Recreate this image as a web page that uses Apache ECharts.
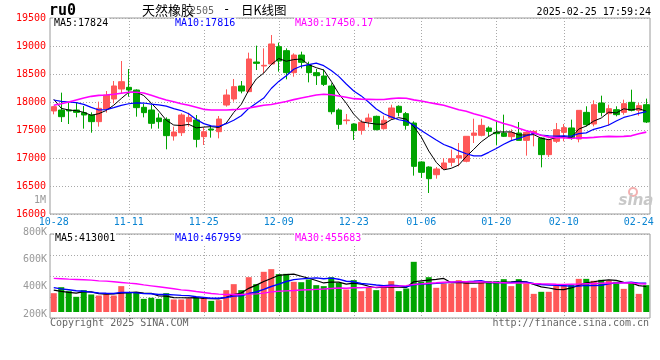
<!DOCTYPE html>
<html><head><meta charset="utf-8">
<script src="https://cdn.jsdelivr.net/npm/echarts@6/dist/echarts.min.js"></script>
<style>html,body{margin:0;padding:0;background:#fff}#c{width:660px;height:360px}</style>
</head><body><div id="c"></div>
<script>
// ---- data ----
const dates = ['10-28','10-29','10-30','10-31','11-01','11-04','11-05','11-06','11-07','11-08',
'11-11','11-12','11-13','11-14','11-15','11-18','11-19','11-20','11-21','11-22',
'11-25','11-26','11-27','11-28','11-29','12-02','12-03','12-04','12-05','12-06',
'12-09','12-10','12-11','12-12','12-13','12-16','12-17','12-18','12-19','12-20',
'12-23','12-24','12-25','12-26','12-27','12-30','12-31','01-02','01-03','01-06',
'01-07','01-08','01-09','01-10','01-13','01-14','01-15','01-16','01-17','01-20',
'01-21','01-22','01-23','01-24','01-27','02-05','02-06','02-07','02-10','02-11',
'02-12','02-13','02-14','02-17','02-18','02-19','02-20','02-21','02-24','02-25'];
const opens = [17840,17857,17857,17857,17810,17768,17649,17875,18054,18232,
18262,18214,17905,17857,17714,17690,17393,17452,17649,17679,
17381,17518,17470,17946,18054,18286,18185,18714,18643,18679,
18988,18917,18524,18839,18661,18524,18464,18286,17857,17667,
17607,17494,17649,17744,17524,17714,17923,17792,17625,16929,
16839,16702,16810,16923,17000,16941,17405,17405,17536,17458,
17446,17381,17446,17315,17434,17357,17060,17298,17458,17536,
17339,17815,17607,17982,17792,17863,17815,17994,17851,17952];
const closes = [17917,17738,17840,17815,17768,17649,17887,18125,18286,18363,
18214,17899,17810,17619,17649,17399,17464,17768,17726,17333,
17470,17500,17696,18125,18274,18196,18768,18690,18655,19036,
18732,18524,18839,18708,18524,18470,18315,17827,17601,17679,
17488,17637,17714,17506,17673,17893,17815,17583,16851,16744,
16631,16804,16911,16988,17042,17387,17446,17583,17476,17434,
17387,17452,17315,17458,17476,17060,17327,17506,17542,17357,
17851,17595,17952,17815,17881,17774,17970,17851,17935,17643];
const lows = [17780,17643,17607,17726,17524,17452,17560,17810,17976,18155,
18095,17738,17726,17524,17524,17155,17310,17393,17560,17190,
17232,17363,17351,17917,18006,18155,18173,18571,18512,18661,
18542,18405,18452,18601,18351,18304,18286,17780,17512,17601,
17321,17417,17548,17494,17506,17685,17744,17506,16685,16643,
16375,16631,16792,16851,16851,16923,17268,17387,17387,17226,
17375,17321,17315,17042,17208,16833,17018,17268,17298,17327,
17280,17565,17565,17744,17577,17744,17774,17833,17756,17625];
const highs = [17930,18167,17988,17988,17929,17815,18006,18196,18375,18732,
18589,18226,17964,17946,17798,17726,17560,17798,17810,17768,
17548,17577,17750,18226,18411,18375,18881,19006,18958,19196,
19060,18958,18869,18899,18720,18589,18583,18333,17887,17786,
17619,17685,17792,17756,17756,17952,17940,17821,17655,16941,
16851,16839,17000,17149,17268,17387,17702,17702,17565,17667,
17774,17512,17643,17476,17494,17369,17345,17625,17607,17685,
17851,17923,18030,18113,17952,17923,18042,18220,17982,18060];
// volume in thousands of lots
const volumesK = [305,402,338,246,354,284,267,289,267,419,
321,321,213,230,213,305,203,203,219,235,
235,181,192,354,451,354,564,451,651,694,
613,618,489,483,527,435,419,564,473,365,
516,338,392,354,419,500,338,381,813,489,
564,392,462,462,516,500,392,489,500,500,
532,419,532,462,294,327,327,424,435,435,
537,537,505,521,505,489,375,473,294,435];
const ma5Lead = [18048,17887,17857,17845];
const ma10Lead = [18036,18012,18000,17988,17958,17905,17857,17863,17899];
const ma30Lead = [17941,17970,18000,18036,18071,18101,18119,18125,18137,18155,
18173,18173,18161,18119,18077,18036,18006,17970,17941,17905,
17869,17857,17857,17857,17863,17875,17893,17917,17941];
const volMa5LeadK = [355,335,318,306];
const volMa10LeadK = [395,375,360,345,335,322,308,303,300];
const volMa30LeadK = [544,538,532,527,522,516,505,500,489,478,
467,457,440,424,408,392,376,359,349,332,
316,300,289,284,284,284,289,294,305];
const labelDates = ['10-28','11-11','11-25','12-09','12-23','01-06','01-20','02-10','02-24'];
const gridDates = ['11-11','11-25','12-09','12-23','01-06','01-20','02-10'];
const priceMin = 16000, priceMax = 19500, priceStep = 500;
const volLabelValues = [200000,400000,600000,800000];
const headerMain = ['MA5:17824','MA10:17816','MA30:17450.17'];
const headerVol = ['MA5:413001','MA10:467959','MA30:455683'];

// ---- derived ----
function ma(src, n, lead){
  return src.map((v,i)=>{
    if(i < n-1) return lead[i];
    let s=0; for(let k=i-n+1;k<=i;k++) s+=src[k];
    return +(s/n).toFixed(2);
  });
}
const volumes = volumesK.map(v=>v*1000);
const kData = opens.map((o,i)=>[o, closes[i], lows[i], highs[i]]);
const UP='#ff5858', DOWN='#00a400';
const volData = volumes.map((v,i)=>({value:v, itemStyle:{color: closes[i]>=opens[i]?UP:DOWN}}));
const mono = '"DejaVu Sans Mono", monospace';
const dotted = {color:'#a8a8a8', width:1, type:[1,2]};
const labelIdx = (i,v)=>labelDates.indexOf(v)>=0;
const gridIdx = (i,v)=>gridDates.indexOf(v)>=0;

const chart = echarts.init(document.getElementById('c'), null, {renderer:'canvas'});
const gridBase = {left:50, width:600, outerBoundsMode:'none'};
function hdr(txt, x, y, color){
  return {type:'text', x:x, y:y, z:100, style:{text:txt, font:'10px '+mono, fill:color, align:'left', verticalAlign:'middle', backgroundColor:'#fff', padding:[1,1,1,1]}};
}
const option = {
  animation:false,
  backgroundColor:'#fff',
  grid:[
    Object.assign({top:18, height:196, show:true, borderColor:'#9a9a9a', borderWidth:1}, gridBase),
    Object.assign({top:234, height:78, show:false}, gridBase),
    Object.assign({top:234, height:84, show:true, borderColor:'#9a9a9a', borderWidth:1}, gridBase),
    Object.assign({top:218.65, height:109.2, show:false}, gridBase)
  ],
  xAxis:[
    {type:'category', gridIndex:0, data:dates, boundaryGap:true,
     axisLine:{show:false}, axisTick:{show:false},
     axisLabel:{interval:labelIdx, color:'#0a84d2', fontFamily:mono, fontSize:10, margin:3},
     splitLine:{show:true, interval:gridIdx, alignWithLabel:true, lineStyle:dotted}},
    {type:'category', gridIndex:1, data:dates, boundaryGap:true, show:false},
    {type:'category', gridIndex:2, data:dates, boundaryGap:true,
     axisLine:{show:false}, axisTick:{show:false}, axisLabel:{show:false},
     splitLine:{show:true, interval:gridIdx, alignWithLabel:true, lineStyle:dotted}},
    {type:'category', gridIndex:3, data:dates, boundaryGap:true, show:false}
  ],
  yAxis:[
    {type:'value', gridIndex:0, min:priceMin, max:priceMax, interval:priceStep, scale:true,
     axisLine:{show:false}, axisTick:{show:false},
     axisLabel:{color:'#ff0000', fontFamily:mono, fontSize:10, margin:4, formatter:v=>String(v)},
     splitLine:{show:true, lineStyle:dotted}},
    {type:'value', gridIndex:1, min:0, max:1263600, show:false, splitLine:{show:false}},
    {type:'value', gridIndex:2, min:0, max:4, interval:1,
     axisLine:{show:false}, axisTick:{show:false}, axisLabel:{show:false},
     splitLine:{show:true, lineStyle:dotted}},
    {type:'value', gridIndex:3, min:100000, max:900000, interval:100000,
     axisLine:{show:false}, axisTick:{show:false}, splitLine:{show:false},
     axisLabel:{color:'#999', fontFamily:mono, fontSize:10, margin:3,
       formatter:v=>volLabelValues.indexOf(v)>=0 ? (v/1000)+'K' : ''}}
  ],
  series:[
    {type:'candlestick', xAxisIndex:0, yAxisIndex:0, data:kData, barWidth:6,
     itemStyle:{color:UP, color0:DOWN, borderColor:UP, borderColor0:DOWN, borderWidth:1}},
    {type:'line', xAxisIndex:0, yAxisIndex:0, data:ma(closes,5,ma5Lead), symbol:'none', lineStyle:{color:'#000', width:1}, z:5},
    {type:'line', xAxisIndex:0, yAxisIndex:0, data:ma(closes,10,ma10Lead), symbol:'none', lineStyle:{color:'#0000ff', width:1.2}, z:5},
    {type:'line', xAxisIndex:0, yAxisIndex:0, data:ma(closes,30,ma30Lead), symbol:'none', lineStyle:{color:'#ff00ff', width:1.6}, z:5},
    {type:'bar', xAxisIndex:1, yAxisIndex:1, data:volData, barWidth:6},
    {type:'line', xAxisIndex:1, yAxisIndex:1, data:ma(volumes,5,volMa5LeadK.map(v=>v*1000)), symbol:'none', lineStyle:{color:'#000', width:1.2}, z:5},
    {type:'line', xAxisIndex:1, yAxisIndex:1, data:ma(volumes,10,volMa10LeadK.map(v=>v*1000)), symbol:'none', lineStyle:{color:'#0000ff', width:1.4}, z:5},
    {type:'line', xAxisIndex:1, yAxisIndex:1, data:ma(volumes,30,volMa30LeadK.map(v=>v*1000)), symbol:'none', lineStyle:{color:'#ff00ff', width:1.4}, z:5}
  ],
  graphic:[
    {type:'text', x:49, y:11, style:{text:'ru0', font:'bold 15px '+mono, fill:'#000', align:'left', verticalAlign:'middle'}},
    {type:'text', x:142, y:10, style:{text:'天然橡胶', font:'13px "Noto Sans CJK SC"', fill:'#000', align:'left', verticalAlign:'middle'}},
    {type:'text', x:190, y:11, style:{text:'2505', font:'10px '+mono, fill:'#666', align:'left', verticalAlign:'middle'}},
    {type:'text', x:223, y:10, style:{text:'-', font:'12px '+mono, fill:'#000', align:'left', verticalAlign:'middle'}},
    {type:'text', x:241, y:10, style:{text:'日K线图', font:'12.5px "Noto Sans CJK SC"', fill:'#000', align:'left', verticalAlign:'middle'}},
    {type:'text', x:651, y:12, style:{text:'2025-02-25 17:59:24', font:'10px '+mono, fill:'#000', align:'right', verticalAlign:'middle'}},
    hdr(headerMain[0], 53, 23.5, '#000'),
    hdr(headerMain[1], 174, 23.5, '#0000ff'),
    hdr(headerMain[2], 294, 23.5, '#ff00ff'),
    hdr(headerVol[0], 54, 238.5, '#000'),
    hdr(headerVol[1], 174, 238.5, '#0000ff'),
    hdr(headerVol[2], 294, 238.5, '#ff00ff'),
    {type:'text', x:46, y:200.5, style:{text:'1M', font:'10px '+mono, fill:'#999', align:'right', verticalAlign:'middle'}},
    {type:'text', x:50, y:323.5, style:{text:'Copyright 2025 SINA.COM', font:'10px '+mono, fill:'#666', align:'left', verticalAlign:'middle'}},
    {type:'text', x:649, y:323.5, style:{text:'http://finance.sina.com.cn', font:'10px '+mono, fill:'#666', align:'right', verticalAlign:'middle'}},
    {type:'circle', shape:{cx:633, cy:192, r:4}, style:{fill:'none', stroke:'#f3b0b0', lineWidth:2}},
    {type:'text', x:636, y:201, style:{text:'sina', font:'italic bold 15px "DejaVu Sans"', fill:'#c8c8c8', align:'center', verticalAlign:'middle'}}
  ]
};
chart.setOption(option);
</script></body></html>
